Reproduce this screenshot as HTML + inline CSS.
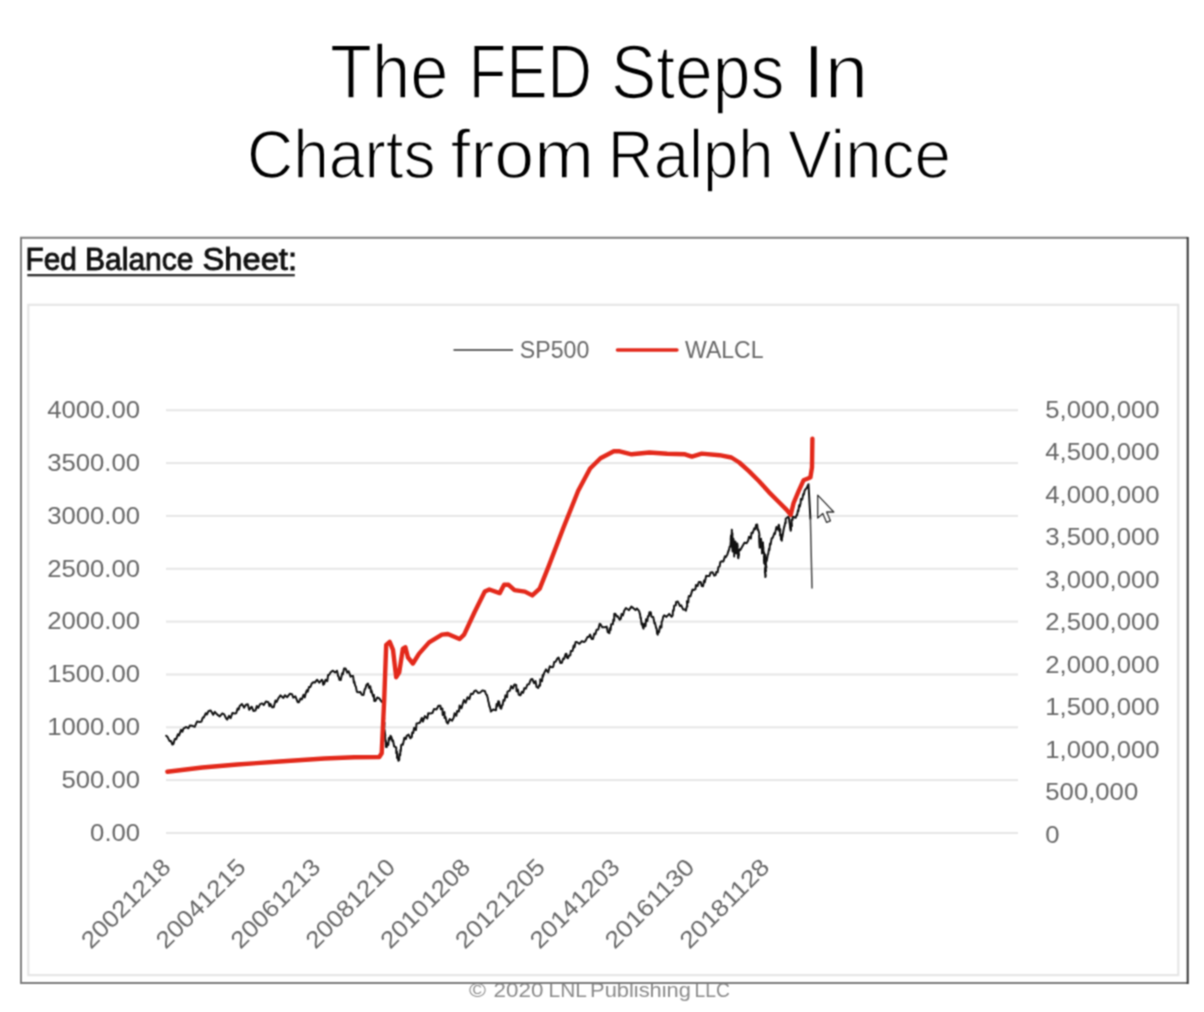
<!DOCTYPE html>
<html><head><meta charset="utf-8"><title>The FED Steps In</title>
<style>html,body{margin:0;padding:0;background:#fff}svg{display:block}</style></head>
<body>
<svg width="1204" height="1012" viewBox="0 0 1204 1012">
<defs><filter id="soft" color-interpolation-filters="sRGB" x="0" y="0" width="1204" height="1012" filterUnits="userSpaceOnUse"><feConvolveMatrix order="3" kernelMatrix="1 2 1 2 5 2 1 2 1" divisor="17" edgeMode="duplicate" preserveAlpha="true"/></filter></defs>
<g filter="url(#soft)">
<rect width="1204" height="1012" fill="#fff"/>
<g font-family="'Liberation Sans', sans-serif" fill="#000" stroke="#fff" stroke-width="1.4">
<text x="329.98" y="97.7" font-size="76.5" stroke-width="1.6" textLength="118.54" lengthAdjust="spacingAndGlyphs">The</text>
<text x="468.82" y="97.7" font-size="76.5" stroke-width="1.6" textLength="123.30" lengthAdjust="spacingAndGlyphs">FED</text>
<text x="610.96" y="97.7" font-size="76.5" stroke-width="1.6" textLength="173.57" lengthAdjust="spacingAndGlyphs">Steps</text>
<text x="803.02" y="97.7" font-size="76.5" stroke-width="1.6" textLength="65.20" lengthAdjust="spacingAndGlyphs">In</text>
<text x="246.98" y="177.8" font-size="68.5" stroke-width="1.5" textLength="188.54" lengthAdjust="spacingAndGlyphs">Charts</text>
<text x="450.49" y="177.8" font-size="68.5" stroke-width="1.5" textLength="143.55" lengthAdjust="spacingAndGlyphs">from</text>
<text x="607.81" y="177.8" font-size="68.5" stroke-width="1.5" textLength="165.84" lengthAdjust="spacingAndGlyphs">Ralph</text>
<text x="788.01" y="177.8" font-size="68.5" stroke-width="1.5" textLength="162.97" lengthAdjust="spacingAndGlyphs">Vince</text>
</g>
<g font-family="'Liberation Sans', sans-serif" font-size="20.2" fill="#8a8a8a">
<text x="469.01" y="996.6" textLength="16.98" lengthAdjust="spacingAndGlyphs">©</text>
<text x="493.60" y="996.6" textLength="49.82" lengthAdjust="spacingAndGlyphs">2020</text>
<text x="548.61" y="996.6" textLength="38.27" lengthAdjust="spacingAndGlyphs">LNL</text>
<text x="590.06" y="996.6" textLength="100.90" lengthAdjust="spacingAndGlyphs">Publishing</text>
<text x="694.57" y="996.6" textLength="35.36" lengthAdjust="spacingAndGlyphs">LLC</text>
</g>
<path d="M1187.6 237.8 H21 V983 H1187.6" fill="none" stroke="#7c7c7c" stroke-width="1.9"/>
<path d="M1187.7 236.9 V983.9" fill="none" stroke="#333" stroke-width="2"/>
<rect x="28.3" y="304.8" width="1150" height="670.3" fill="none" stroke="#e6e6e6" stroke-width="2.2"/>
<g font-family="'Liberation Sans', sans-serif" font-size="31" fill="#111" stroke="#111" stroke-width="0.9">
<text x="25.55" y="270.2" textLength="51.40" lengthAdjust="spacingAndGlyphs">Fed</text>
<text x="85.06" y="270.2" textLength="108.42" lengthAdjust="spacingAndGlyphs">Balance</text>
<text x="202.52" y="270.2" textLength="94.44" lengthAdjust="spacingAndGlyphs">Sheet:</text>
</g>
<rect x="27.3" y="274" width="267.5" height="2.4" fill="#333"/>
<rect x="166" y="409.2" width="852" height="2" fill="#e6e6e6"/>
<rect x="166" y="462.1" width="852" height="2" fill="#e6e6e6"/>
<rect x="166" y="514.9" width="852" height="2" fill="#e6e6e6"/>
<rect x="166" y="567.8" width="852" height="2" fill="#e6e6e6"/>
<rect x="166" y="620.6" width="852" height="2" fill="#e6e6e6"/>
<rect x="166" y="673.5" width="852" height="2" fill="#e6e6e6"/>
<rect x="166" y="726.3" width="852" height="2" fill="#e6e6e6"/>
<rect x="166" y="779.1" width="852" height="2" fill="#e6e6e6"/>
<rect x="166" y="832.0" width="852" height="2" fill="#e6e6e6"/>
<g font-family="'Liberation Sans', sans-serif" font-size="23.9" fill="#686868">
<text x="47.2" y="417.9" textLength="92.9" lengthAdjust="spacingAndGlyphs">4000.00</text>
<text x="47.2" y="470.8" textLength="92.9" lengthAdjust="spacingAndGlyphs">3500.00</text>
<text x="47.2" y="523.6" textLength="92.9" lengthAdjust="spacingAndGlyphs">3000.00</text>
<text x="47.2" y="576.5" textLength="92.9" lengthAdjust="spacingAndGlyphs">2500.00</text>
<text x="47.2" y="629.3" textLength="92.9" lengthAdjust="spacingAndGlyphs">2000.00</text>
<text x="47.2" y="682.2" textLength="92.9" lengthAdjust="spacingAndGlyphs">1500.00</text>
<text x="47.2" y="735.0" textLength="92.9" lengthAdjust="spacingAndGlyphs">1000.00</text>
<text x="61.5" y="787.9" textLength="78.6" lengthAdjust="spacingAndGlyphs">500.00</text>
<text x="90.1" y="840.7" textLength="50.0" lengthAdjust="spacingAndGlyphs">0.00</text>
<text x="1045.3" y="417.9" textLength="114.3" lengthAdjust="spacingAndGlyphs">5,000,000</text>
<text x="1045.3" y="460.4" textLength="114.3" lengthAdjust="spacingAndGlyphs">4,500,000</text>
<text x="1045.3" y="502.9" textLength="114.3" lengthAdjust="spacingAndGlyphs">4,000,000</text>
<text x="1045.3" y="545.4" textLength="114.3" lengthAdjust="spacingAndGlyphs">3,500,000</text>
<text x="1045.3" y="587.9" textLength="114.3" lengthAdjust="spacingAndGlyphs">3,000,000</text>
<text x="1045.3" y="630.4" textLength="114.3" lengthAdjust="spacingAndGlyphs">2,500,000</text>
<text x="1045.3" y="672.9" textLength="114.3" lengthAdjust="spacingAndGlyphs">2,000,000</text>
<text x="1045.3" y="715.4" textLength="114.3" lengthAdjust="spacingAndGlyphs">1,500,000</text>
<text x="1045.3" y="757.9" textLength="114.3" lengthAdjust="spacingAndGlyphs">1,000,000</text>
<text x="1045.3" y="800.4" textLength="92.9" lengthAdjust="spacingAndGlyphs">500,000</text>
<text x="1045.3" y="842.9" textLength="14.3" lengthAdjust="spacingAndGlyphs">0</text>
<text transform="translate(159.8,856.2) rotate(-45)" x="-115.0" y="17.6" textLength="115.0" lengthAdjust="spacingAndGlyphs">20021218</text>
<text transform="translate(234.6,856.2) rotate(-45)" x="-115.0" y="17.6" textLength="115.0" lengthAdjust="spacingAndGlyphs">20041215</text>
<text transform="translate(309.4,856.2) rotate(-45)" x="-115.0" y="17.6" textLength="115.0" lengthAdjust="spacingAndGlyphs">20061213</text>
<text transform="translate(384.3,856.2) rotate(-45)" x="-115.0" y="17.6" textLength="115.0" lengthAdjust="spacingAndGlyphs">20081210</text>
<text transform="translate(459.1,856.2) rotate(-45)" x="-115.0" y="17.6" textLength="115.0" lengthAdjust="spacingAndGlyphs">20101208</text>
<text transform="translate(533.9,856.2) rotate(-45)" x="-115.0" y="17.6" textLength="115.0" lengthAdjust="spacingAndGlyphs">20121205</text>
<text transform="translate(608.7,856.2) rotate(-45)" x="-115.0" y="17.6" textLength="115.0" lengthAdjust="spacingAndGlyphs">20141203</text>
<text transform="translate(683.5,856.2) rotate(-45)" x="-115.0" y="17.6" textLength="115.0" lengthAdjust="spacingAndGlyphs">20161130</text>
<text transform="translate(758.4,856.2) rotate(-45)" x="-115.0" y="17.6" textLength="115.0" lengthAdjust="spacingAndGlyphs">20181128</text>
<text x="519.8" y="357.8" font-size="23.6" textLength="69.5" lengthAdjust="spacingAndGlyphs">SP500</text>
<text x="685" y="357.8" font-size="23.6" textLength="78.5" lengthAdjust="spacingAndGlyphs">WALCL</text>
</g>
<rect x="453.5" y="349" width="59.5" height="2" fill="#666"/>
<rect x="615.7" y="348.2" width="63" height="3.6" rx="1.8" fill="#e3291b"/>
<polyline points="166.2,735.8 167.6,737.1 169.5,740.9 170.9,741.0 172.4,744.5 173.4,744.1 174.8,739.0 176.2,739.2 178.0,734.2 179.1,735.5 181.0,729.9 182.3,731.8 183.6,728.3 186.3,727.0 188.4,728.3 189.8,725.6 192.4,725.8 194.7,726.8 197.0,721.6 199.8,722.1 201.4,721.6 202.8,717.6 203.8,717.5 205.8,713.2 206.9,714.5 208.6,710.9 210.7,710.6 213.2,714.8 214.8,711.9 217.3,714.6 219.8,716.4 222.3,713.4 224.2,714.3 226.1,718.4 227.2,719.6 229.0,715.9 230.6,718.1 232.4,713.0 234.7,713.4 236.2,713.3 237.6,708.4 238.7,709.6 239.7,705.9 241.9,704.0 244.2,707.6 245.9,704.7 247.8,704.3 249.2,709.8 251.7,706.7 253.4,710.9 255.5,710.6 256.8,706.0 258.2,707.9 260.1,704.1 262.1,703.4 263.8,705.1 265.9,701.5 268.4,702.2 269.5,706.2 270.4,704.0 272.1,707.2 273.7,707.3 275.5,700.5 276.6,702.0 278.3,698.4 280.5,695.4 283.4,697.9 284.9,695.2 287.2,697.2 289.8,693.8 292.0,694.2 293.3,697.6 295.4,696.4 297.7,702.2 299.0,702.2 300.4,698.6 301.9,699.4 303.5,694.8 304.8,697.4 305.7,693.4 306.9,690.2 307.8,691.6 309.0,687.1 310.4,686.9 311.8,683.4 313.2,682.2 314.9,682.5 317.2,679.7 319.3,682.7 321.9,679.7 322.7,681.3 323.2,684.7 324.2,683.9 325.5,679.7 327.3,681.1 328.1,674.9 329.0,675.1 330.7,672.3 332.6,670.7 335.1,672.4 336.9,671.0 337.0,670.7 338.2,676.3 338.8,676.9 339.4,679.7 340.7,680.1 342.2,673.3 342.9,674.3 344.0,668.6 345.6,668.5 347.2,672.6 348.6,671.2 350.6,676.7 351.8,676.0 353.1,676.1 353.9,682.7 354.2,681.3 355.3,685.9 355.8,686.4 356.9,691.9 358.1,692.2 360.4,692.0 361.8,694.7 363.5,695.0 364.8,688.9 365.3,689.0 366.5,684.7 368.0,683.5 369.1,688.1 370.3,686.3 371.0,692.2 371.4,690.3 373.1,696.5 373.9,695.0 374.3,700.9 375.5,700.9 377.2,697.5 379.3,698.4 381.6,701.7 383.0,702.2 383.0,702.2 383.4,708.1 383.0,708.7 383.9,714.3 383.2,712.4 384.2,719.0 383.6,717.9 383.5,722.7 384.5,722.7 384.2,729.6 384.2,729.6 384.5,729.7 385.3,735.6 385.1,735.9 385.4,741.3 385.8,740.6 386.0,747.0 386.7,747.0 387.3,743.3 388.3,744.9 388.9,737.9 389.7,739.7 390.5,735.8 391.5,737.4 392.4,741.3 393.0,740.3 394.1,746.3 395.5,747.0 396.2,747.6 396.3,753.2 397.0,751.7 397.1,757.9 397.7,757.3 398.4,760.7 399.2,760.0 399.4,754.0 400.2,755.3 400.4,749.9 400.8,751.1 401.2,745.2 401.7,744.5 402.9,744.8 404.4,737.8 405.9,739.1 406.7,735.8 408.6,734.6 410.4,738.3 411.8,737.0 412.2,732.5 413.2,733.0 414.2,727.8 416.0,730.0 416.5,723.5 417.9,723.3 419.8,722.8 421.8,718.0 422.9,721.6 424.9,716.1 427.3,718.5 428.2,713.3 430.3,713.4 432.4,713.1 434.0,709.1 436.6,709.4 438.4,705.8 440.4,705.7 440.8,709.2 442.4,708.5 442.7,715.0 444.4,712.1 444.6,718.0 445.5,716.9 446.6,722.1 447.8,723.5 449.7,719.1 452.1,720.7 453.7,717.6 454.6,713.2 456.3,715.8 457.1,711.1 459.0,711.4 459.6,705.6 461.5,708.3 462.6,704.2 463.9,700.0 465.6,702.8 467.6,697.2 469.4,699.1 470.9,693.8 472.8,693.9 474.5,690.9 476.1,690.5 478.0,692.9 480.4,692.4 482.4,690.4 484.8,690.9 486.1,694.5 486.8,694.9 487.8,698.3 488.2,701.2 488.6,702.1 489.5,706.7 489.5,705.7 490.7,710.2 490.8,711.6 493.3,709.4 495.2,710.2 496.0,710.2 496.6,704.1 497.6,706.1 498.2,701.3 499.0,701.5 500.4,708.1 501.2,708.7 502.0,705.2 502.6,705.1 503.5,699.9 504.6,700.7 505.4,695.3 507.1,697.3 507.4,692.0 508.6,690.9 509.8,690.8 511.2,686.1 512.8,688.5 514.5,684.4 516.2,684.9 516.6,691.3 517.9,689.6 518.7,694.5 520.4,695.3 521.9,691.7 523.1,692.9 524.4,688.1 525.9,688.6 527.4,684.5 529.1,684.2 530.9,679.4 532.3,679.0 534.0,683.2 535.5,681.1 536.6,687.0 538.2,687.9 539.5,684.9 540.1,685.6 540.3,679.3 542.0,681.3 542.7,675.1 542.9,676.9 544.1,673.1 546.0,669.4 548.2,672.4 549.8,666.3 551.6,667.2 553.2,666.9 554.2,662.1 555.6,661.8 557.5,658.3 558.6,657.5 560.5,663.1 561.9,662.7 563.2,658.5 564.1,658.9 565.6,654.0 566.4,653.8 567.1,657.7 567.9,658.3 569.1,655.5 570.3,655.3 570.8,651.0 572.5,651.1 573.7,645.5 574.5,647.4 575.6,642.0 576.8,642.0 579.5,643.8 581.8,641.2 584.2,642.0 585.3,641.2 587.4,637.1 588.7,637.0 590.1,634.6 590.4,635.7 591.6,639.0 593.0,638.9 594.3,633.6 595.4,634.2 596.6,629.7 598.3,629.4 599.7,623.8 600.5,624.2 602.2,627.2 604.9,627.2 606.7,626.6 607.8,632.2 609.4,633.1 609.8,628.2 610.6,630.0 611.2,624.2 612.8,624.3 613.4,619.4 614.2,620.6 614.3,613.8 615.3,613.8 616.8,616.4 617.8,616.2 619.7,619.7 620.8,618.7 621.6,614.0 622.9,615.4 624.2,610.8 625.9,608.0 629.0,610.2 631.3,606.6 633.1,607.9 635.5,610.1 636.9,608.5 639.0,610.8 640.1,614.8 640.0,613.8 640.5,618.2 640.8,617.5 641.6,624.4 642.1,623.1 642.9,627.4 643.5,628.6 644.2,623.8 645.5,626.2 646.1,619.2 647.3,621.0 647.9,616.3 648.8,616.2 649.4,612.3 650.8,612.3 651.4,616.7 653.2,617.0 653.8,619.7 654.5,623.5 654.9,622.6 656.2,628.3 656.6,628.4 657.1,633.5 657.7,634.6 658.2,631.2 659.0,632.2 660.1,626.3 661.4,627.5 661.7,621.6 662.3,620.9 663.2,616.9 664.2,615.3 666.4,616.9 669.2,613.9 671.6,616.8 672.6,615.7 673.0,610.2 673.7,610.6 674.2,605.7 675.8,605.3 676.1,602.0 677.9,601.6 680.0,606.0 681.2,605.3 683.1,609.4 685.0,609.4 685.9,610.7 686.9,605.9 687.3,606.4 686.9,601.3 688.3,602.4 688.5,597.8 688.9,595.9 690.4,596.4 692.5,589.6 693.8,590.0 695.5,589.1 695.9,585.1 697.6,586.0 698.8,582.1 700.7,582.0 701.7,586.0 703.1,586.2 704.1,580.4 704.8,582.2 706.2,575.7 707.7,576.1 709.5,576.0 710.6,572.4 712.6,572.2 714.2,575.7 715.6,575.1 716.2,572.1 717.6,572.3 718.4,567.2 719.6,566.5 720.3,562.1 721.5,561.3 723.4,561.5 724.9,556.3 725.7,557.2 727.4,554.4 728.6,550.4 728.7,551.1 729.7,546.5 730.4,546.5 730.5,545.2 731.0,539.2 730.7,540.0 731.0,535.4 731.6,535.5 731.9,530.0 731.8,529.7 731.9,533.1 732.4,533.3 732.4,538.0 731.9,537.2 732.0,544.3 732.3,543.2 732.1,548.0 732.6,546.5 732.6,551.4 732.4,550.2 732.6,543.7 732.7,544.4 732.8,539.8 733.4,538.6 733.9,543.5 733.8,541.1 734.1,547.5 733.5,546.3 734.2,551.9 734.2,552.5 734.2,556.4 734.2,555.2 734.2,550.8 734.5,550.3 735.4,545.6 735.6,545.0 735.3,541.5 735.4,541.7 736.1,547.7 735.6,547.1 736.2,553.5 736.5,553.4 736.4,549.6 737.3,549.1 737.0,543.8 737.3,543.5 737.7,546.7 737.2,547.7 738.2,552.0 738.2,551.0 738.0,557.0 738.3,558.3 739.0,554.3 738.6,555.9 738.9,550.5 739.3,549.4 740.3,550.1 742.3,546.5 744.6,542.6 746.6,543.2 748.2,540.6 749.0,536.7 750.9,538.5 751.5,532.7 752.6,533.1 754.3,528.3 755.3,529.1 756.1,524.7 757.2,524.6 757.7,530.0 758.1,529.3 759.1,532.6 759.5,535.9 759.1,535.5 759.3,540.8 759.2,540.8 759.7,547.6 760.0,547.5 760.7,542.7 760.3,543.8 760.4,539.2 761.0,538.6 761.4,542.5 761.1,542.1 761.6,547.9 761.9,546.2 762.0,551.8 762.0,553.4 762.6,550.0 762.5,550.4 762.8,545.9 762.6,545.8 763.0,542.5 762.8,542.5 763.3,548.4 763.3,546.9 763.5,552.8 764.0,552.2 764.3,557.2 763.9,556.4 764.4,563.4 764.2,563.3 763.9,559.9 764.2,559.8 765.3,554.8 765.0,554.4 765.5,558.3 765.4,557.9 764.9,564.1 765.6,563.7 765.3,568.9 765.0,568.2 764.9,573.1 765.1,572.8 765.4,577.1 765.7,575.9 765.2,571.3 766.0,571.3 765.8,567.1 766.4,567.5 765.8,562.8 766.4,561.3 766.8,560.7 767.6,555.9 767.9,554.4 768.2,554.1 769.0,548.7 769.4,550.1 770.0,543.6 770.6,544.5 771.7,538.2 771.9,538.6 772.9,537.3 774.4,533.0 774.9,534.1 776.4,527.1 777.6,529.4 778.8,524.7 779.2,526.1 779.2,531.0 780.2,529.1 780.1,535.6 780.8,534.4 781.0,539.5 781.8,540.6 782.2,535.7 782.3,537.3 783.4,530.8 783.2,531.7 784.4,525.9 784.4,526.8 785.3,522.3 785.7,523.1 785.7,518.8 788.3,516.8 789.0,518.2 789.4,522.5 789.4,521.5 790.2,527.0 790.0,527.0 790.7,530.7 791.0,529.7 791.0,525.0 791.9,526.1 791.5,519.7 792.6,519.8 792.6,516.8 795.6,517.8 796.7,514.9 797.1,515.3 797.9,510.3 798.4,511.1 799.1,505.3 799.8,506.6 800.6,503.0 800.9,498.9 802.2,499.5 803.3,493.9 803.8,494.7 804.6,490.7 805.5,489.2 806.6,488.2 808.5,484.2 810.4,518.8" fill="none" stroke="#111" stroke-width="2.0" stroke-linejoin="round" stroke-linecap="round"/>
<polyline points="810.4,518.8 812.0,588.0" fill="none" stroke="#444" stroke-width="1.5" stroke-linecap="round"/>
<polyline points="167.4,771.7 202.3,767.5 237.2,764.5 279.6,761.5 324.4,758.5 354.3,757.2 379.3,757.0 381.7,753.3 384.2,699.7 386.2,644.9 389.7,641.9 393.0,649.8 396.2,677.2 399.2,672.3 402.9,648.6 405.4,647.3 407.9,657.3 412.9,663.5 419.1,653.6 429.1,642.4 441.9,634.6 447.8,634.0 459.6,639.0 464.1,634.6 474.5,612.3 484.8,591.6 489.3,589.5 499.7,593.1 504.1,584.8 508.6,584.8 514.5,590.1 524.9,591.6 532.3,595.4 539.7,588.6 548.6,566.4 563.4,527.8 578.2,490.8 590.1,468.5 600.5,458.2 613.8,451.3 619.7,451.3 631.6,454.3 649.4,452.5 667.2,453.7 685.0,454.3 691.9,456.6 701.7,453.6 719.5,455.2 731.4,457.5 739.3,462.5 749.2,471.4 759.1,481.3 768.9,492.1 778.8,502.0 786.7,509.9 790.7,514.9 793.6,503.0 798.6,491.1 803.5,480.3 808.5,478.3 810.4,477.3 812.0,467.4 812.4,438.8" fill="none" stroke="#e3291b" stroke-width="4.4" stroke-linejoin="round" stroke-linecap="round"/>
<path d="M817.7 495.1 L817.7 518 L822.8 513.4 L826.6 522.4 L830.4 520.8 L826.6 512 L833.8 512 Z" fill="#fff" stroke="#333" stroke-width="1.3" stroke-linejoin="round"/>
</g>
</svg>
</body></html>
